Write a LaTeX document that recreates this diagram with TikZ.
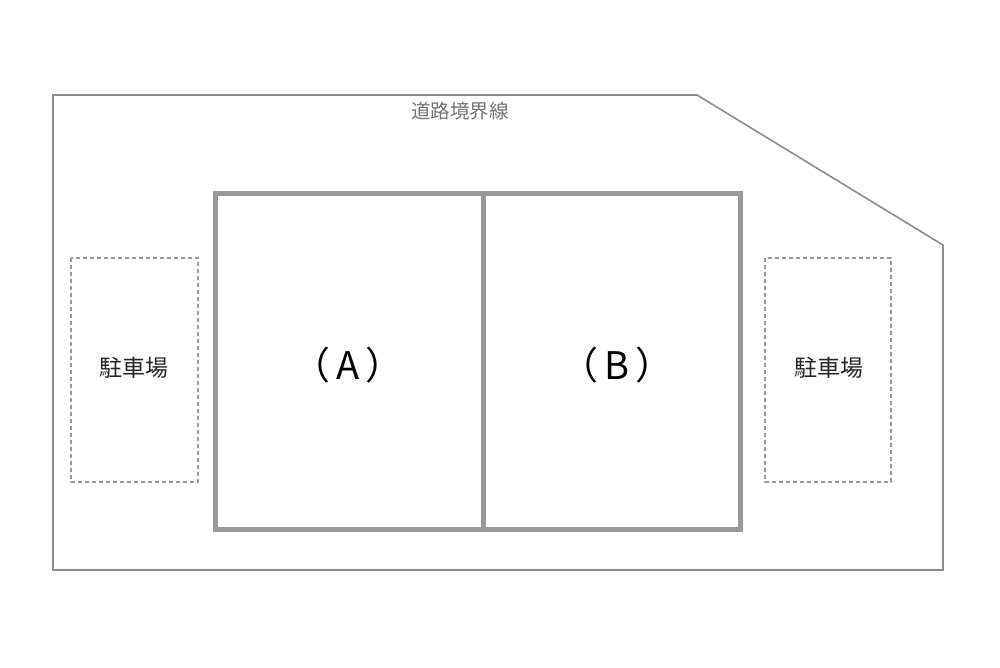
\documentclass[tikz,border=0pt]{standalone}
\usepackage{fontspec}
\newfontfamily\cjk{Noto Sans CJK JP}
\begin{document}
\begin{tikzpicture}[x=1pt,y=-1pt,
  bound/.style={draw=black!45,line width=1.6pt},
  bldg/.style={draw=black!40,line width=5pt},
  park/.style={draw=black!40,dashed,line width=1.4pt,dash pattern=on 4pt off 3pt},
  lbl/.style={font=\cjk\fontsize{23}{25}\selectfont,text=black!85},
  big/.style={font=\cjk\fontsize{38}{42}\selectfont,text=black}]
\useasboundingbox (0,0) rectangle (1000,667);
\draw[bound] (53,95) -- (697,95) -- (943,245) -- (943,570) -- (53,570) -- cycle;
\node[font=\cjk\fontsize{19.5}{21}\selectfont,text=black!55] (road) at (460,111) {道路境界線};
\draw[bldg] (215,193) rectangle (740,529);
\draw[bldg] (483,193) -- (483,529);
\draw[park] (71,258) rectangle (198,482);
\draw[park] (765,258) rectangle (891,482);
\node[lbl] (p1) at (134,368) {駐車場};
\node[lbl] (p2) at (829,368) {駐車場};
\node[big] (a) at (348,365) {（\,A\,）};
\node[big] (b) at (617,365) {（\,B\,）};
\end{tikzpicture}
\end{document}
